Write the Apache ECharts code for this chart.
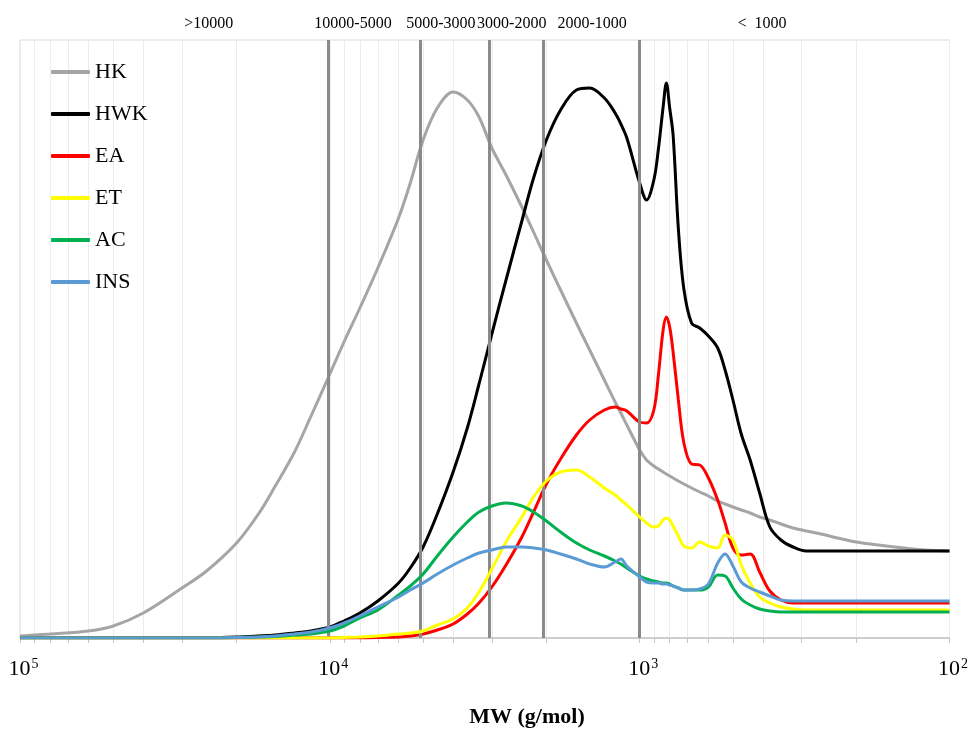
<!DOCTYPE html>
<html><head><meta charset="utf-8">
<script src="https://cdn.jsdelivr.net/npm/echarts@6/dist/echarts.min.js"></script>
<style>html,body{margin:0;padding:0;background:#fff}#c{width:971px;height:729px}</style>
</head><body><div id="c"></div>
<script>
// Molecular weight sample points (g/mol)
const mw = [100000,80000,60000,50000,40000,30000,25000,20000,17000,15000,13000,11500,10000,9000,8000,7000,6000,5500,5000,4500,4000,3600,3300,3000,2700,2400,2200,2000,1800,1600,1450,1300,1200,1150,1100,1000,950,900,870,840,820,800,780,750,720,680,640,600,560,530,500,470,440,410,380,350,320,290,260,230,200,170,140,120,100];
// Signal intensity (arbitrary units)
const HK  = [2,4,7,12,25,50,67,95,124,152,186,222,264,296,330,370,420,455,498,530,546,538,521,490,463,431,406,378,348,315,288,258,236,225,213,188,178,172,169,166,164,162,160,157,154,150,146,142,137,134,131,128,125,121,118,114,110,107,104,100,96,93,90,88,87];
const HWK = [0.5,0.5,0.5,0.5,0.5,0.5,0.5,1,2,3,5,7,11,17,25,37,55,70,91,124,166,210,254,304,358,417,460,498,528,548,550,540,525,514,500,455,438,458,489,531,555,530,503,409,349,315,310,302,290,268,238,204,178,145,111,98,91,87,87,87,87,87,87,87,87];
const EA  = [0,0,0,0,0,0,0,0,0,0,0,0,0,0,0,0.5,1,2,4,8,14,24,35,51,73,101,126,154,179,203,218,228,231,229,227,216,215,228,263,308,321,311,286,238,195,174,173,160,138,115,90,83,84,66,47,38,35,35,35,35,35,35,35,35,35];
const ET  = [0,0,0,0,0,0,0,0,0,0,0,0,0,0.5,1,2,4,5,7,13,19,30,46,69,96,121,141,157,166,168,161,150,143,138,133,121,115,111,112,118,120,118,112,102,92,90,96,92,90,103,98,73,55,41,35,31,29,28,28,28,28,28,28,28,28];
const AC  = [0,0,0,0,0,0,0,0.5,1,1.5,3,4,7,12,20,28,43,52,64,82,101,116,126,132,135,132,126,117,106,95,88,82,77,74,70,62,59,57,56,55,55,54,52,50,48,48,48,51,63,62,50,39,33,29,27,26,26,26,26,26,26,26,26,26,26];
const INS = [0,0,0,0,0,0,0,0.5,1,2,4,6,10,15,22,31,41,48,55,64,73,80,85,88,91,91,90,88,84,79,74,71,76,79,72,61,56,55,55,54,54,53,52,50,48,48,49,54,75,84,72,56,50,46,42,38,37,37,37,37,37,37,37,37,37];

const seriesNames = ['HK','HWK','EA','ET','AC','INS'];
const seriesData = [HK, HWK, EA, ET, AC, INS];
const seriesColors = ['#a5a5a5','#000000','#ff0000','#ffff00','#00b050','#5b9bd5'];

// MW boundaries (thick vertical lines) and range labels
const regionLines = [10100, 5100, 3050, 2050, 1000];
const regionLabels = ['>10000','10000-5000','5000-3000','3000-2000','2000-1000','<  1000'];
const regionLabelPos = [24600, 8420, 4384, 2588, 1424, 403];

// axis ticks
const tickValues = [100000,90000,80000,70000,60000,50000,40000,30000,20000,10000,9000,8000,7000,6000,5000,4000,3000,2000,1000,900,800,700,600,500,400,300,200,100];
const majorLabels = [100000,10000,1000,100];

const chart = echarts.init(document.getElementById('c'), null, {renderer:'canvas'});
const serif = '"Liberation Serif","Times New Roman",serif';

const series = [{
  type:'line', data:[], z:1, silent:true, animation:false,
  markLine:{silent:true, symbol:['none','none'], animation:false,
    label:{show:false},
    lineStyle:{color:'#8a8a8a', width:3, type:'solid'},
    emphasis:{disabled:true},
    data: regionLines.map(v=>({xAxis:v}))}
}];
seriesNames.forEach((n,i)=>{
  series.push({
    name:n, type:'line', z:2+i, animation:false,
    data: mw.map((m,j)=>[m, seriesData[i][j]]),
    showSymbol:false, symbol:'none', smooth:0.35,
    lineStyle:{color:seriesColors[i], width:3},
    itemStyle:{color:seriesColors[i]},
    emphasis:{disabled:true}
  });
});

chart.setOption({
  animation:false,
  backgroundColor:'#fff',
  grid:{left:20, right:20, top:40, bottom:91, show:true, borderColor:'#d9d9d9', borderWidth:1, containLabel:false},
  legend:{
    data:seriesNames, orient:'vertical', left:51, top:61, itemGap:20, padding:0,
    icon:'roundRect', itemWidth:39, itemHeight:4,
    textStyle:{fontFamily:serif, fontSize:22, color:'#000', lineHeight:22}
  },
  xAxis:{
    type:'log', logBase:10, min:100, max:100000, inverse:true,
    axisLine:{show:true, lineStyle:{color:'#c4c4c4', width:1.5}},
    axisTick:{show:true, length:5, customValues:tickValues, lineStyle:{color:'#c4c4c4'}},
    splitLine:{show:true, lineStyle:{color:'#ececec', width:1}},
    axisLabel:{
      customValues:majorLabels, margin:19,
      formatter:(v)=>{ const e = Math.round(Math.log10(v)); return '{p|}{b|10}{s|'+e+'}'; },
      rich:{
        p:{width:7, fontSize:22, fontFamily:serif},
        b:{fontSize:22, fontFamily:serif, color:'#000', lineHeight:24},
        s:{fontSize:14, fontFamily:serif, color:'#000', verticalAlign:'top', lineHeight:24, padding:[0,0,0,1]}
      }
    }
  },
  yAxis:{type:'value', min:0, max:598, show:false, splitLine:{show:false}},
  series: series
});

const g = regionLabels.map((t,i)=>({
  type:'text', silent:true,
  x: chart.convertToPixel({xAxisIndex:0}, regionLabelPos[i]), y: 24,
  style:{text:t, font:'16px '+serif, fill:'#000', align:'center', verticalAlign:'middle'}
}));
g.push({type:'text', silent:true, x:527, y:717,
  style:{text:'MW (g/mol)', font:'bold 22px '+serif, fill:'#000', align:'center', verticalAlign:'middle'}});
chart.setOption({graphic:g});
</script></body></html>
